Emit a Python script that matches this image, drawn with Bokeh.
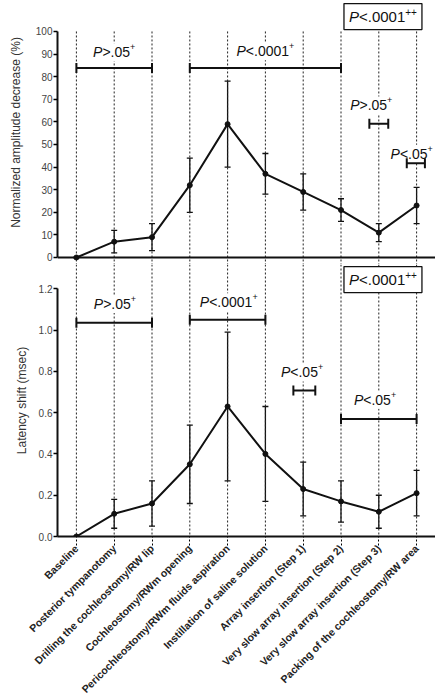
import math
from bokeh.plotting import figure
from bokeh.layouts import column
from bokeh.models import (Range1d, LinearAxis, FixedTicker, Span, Whisker, TeeHead,
                          ColumnDataSource, NumeralTickFormatter)
from bokeh.core.properties import value
from bokeh.embed import file_html
from bokeh.resources import INLINE

# ---------------- data ----------------
steps = ["Baseline", "Posterior tympanotomy", "Drilling the cochleostomy/RW lip",
         "Cochleostomy/RWm opening", "Pericochleostomy/RWm fluids aspiration",
         "Instillation of saline solution", "Array insertion (Step 1)",
         "Very slow array insertion (Step 2)", "Very slow array insertion (Step 3)",
         "Packing of the cochleostomy/RW area"]

amp_mean = [0, 7, 9, 32, 59, 37, 29, 21, 11, 23]
amp_low = [0, 2, 3, 20, 40, 28, 21, 16, 7, 15]
amp_high = [0, 12, 15, 44, 78, 46, 37, 26, 15, 31]

lat_mean = [0, 0.11, 0.16, 0.35, 0.63, 0.40, 0.23, 0.17, 0.12, 0.21]
lat_low = [0, 0.04, 0.05, 0.16, 0.27, 0.17, 0.10, 0.07, 0.04, 0.10]
lat_high = [0, 0.18, 0.27, 0.54, 0.99, 0.63, 0.36, 0.27, 0.20, 0.32]

amp_ticks = [0, 10, 20, 30, 40, 50, 60, 70, 80, 90, 100]
lat_ticks = [0.0, 0.2, 0.4, 0.6, 0.8, 1.0, 1.2]

# significance annotations: (relation text, superscript, x, y)
top_pvals = [(">.05", "+", 1.0, 90.8), ("<.0001", "+", 5.0, 91.2),
             (">.05", "+", 7.8, 67.3), ("<.05", "+", 8.87, 45.9)]
top_brackets = [(0, 2, 83.8), (3, 7, 83.8), (7.75, 8.25, 59.2), (8.74, 9.22, 41.7)]
top_box = ("<.0001", "++", 8.11, 106.6)

bot_pvals = [(">.05", "+", 1.02, 1.127), ("<.0001", "+", 4.03, 1.135),
             ("<.05", "+", 5.97, 0.795), ("<.05", "+", 7.9, 0.663)]
bot_brackets = [(0, 2, 1.036), (3, 5, 1.05), (5.74, 6.32, 0.707), (7, 9, 0.569)]
bot_box = ("<.0001", "++", 8.11, 1.245)

FONT = "Liberation Sans"
CW = {"P": 0.667, "<": 0.584, ">": 0.584, ".": 0.278, "+": 0.584}


def tw(s, size):
    return sum(CW.get(c, 0.556) for c in s) * size


def p_label(fig, rel, sup, x, y, size=14, sup_size=9, boxed=False):
    wP = tw("P", size)
    wR = tw(rel, size)
    wS = tw(sup, sup_size)
    W = wP + wR + wS
    left = -W / 2.0
    if boxed:
        fig.rect(x=[x], y=[y], width=W + 10, height=26, width_units="screen",
                 height_units="screen", fill_color="white", line_color="#111",
                 line_width=1.3)
    else:
        fig.rect(x=[x], y=[y], width=W + 4, height=size + 4, width_units="screen",
                 height_units="screen", fill_color="white", line_color=None)
    common = dict(text_font=value(FONT), text_baseline="middle", text_align="left",
                  text_color="#111")
    fig.text(x=[x], y=[y], text=["P"], x_offset=left, text_font_size=f"{size}px",
             text_font_style="italic", **common)
    fig.text(x=[x], y=[y], text=[rel], x_offset=left + wP, text_font_size=f"{size}px",
             **common)
    fig.text(x=[x], y=[y], text=[sup], x_offset=left + wP + wR, y_offset=-5,
             text_font_size=f"{sup_size}px", **common)


def brackets(fig, items):
    for x0, x1, y in items:
        fig.segment(x0=[x0], y0=[y], x1=[x1], y1=[y], line_color="#111", line_width=2)
        fig.scatter(x=[x0, x1], y=[y, y], marker="dash", angle=math.pi / 2, size=10,
                    line_color="#111", line_width=2)


def style_yaxis(ax, standoff):
    ax.axis_line_width = 2
    ax.axis_line_color = "#111"
    ax.major_tick_out = 4
    ax.major_tick_in = 0
    ax.major_tick_line_width = 1.5
    ax.minor_tick_line_color = None
    ax.major_label_standoff = 1
    ax.major_label_text_font = FONT
    ax.major_label_text_font_size = "10px"
    ax.major_label_text_color = "#444"
    ax.axis_label_text_font = FONT
    ax.axis_label_text_font_size = "12px"
    ax.axis_label_text_font_style = "normal"
    ax.axis_label_text_color = "#333"
    ax.axis_label_standoff = standoff


xs = list(range(len(steps)))

# ---------------- top panel ----------------
top_ymin, top_ymax = -3.1, 113.7
pt = figure(frame_width=378, frame_height=264, x_range=Range1d(-0.5, 9.5),
            y_range=Range1d(top_ymin, top_ymax), x_axis_location=None,
            y_axis_location=None, min_border_left=57, min_border_right=0,
            min_border_top=0, min_border_bottom=0, output_backend="svg",
            toolbar_location=None)
pt.outline_line_color = None
pt.grid.visible = False

pt.segment(x0=xs, y0=[100] * len(xs), x1=xs, y1=[top_ymin] * len(xs),
           line_color="#222", line_width=1, line_dash="2 2")
pt.add_layout(Span(location=0, dimension="width", line_color="#111", line_width=2))

for rel, sup, x, y in top_pvals:
    p_label(pt, rel, sup, x, y)
p_label(pt, *top_box[:2], *top_box[2:], size=15, sup_size=10, boxed=True)
brackets(pt, top_brackets)

src_t = ColumnDataSource(dict(x=xs, m=amp_mean, lo=amp_low, hi=amp_high))
pt.line("x", "m", source=src_t, line_color="#111", line_width=2)
pt.add_layout(Whisker(source=src_t, base="x", lower="lo", upper="hi",
                      line_color="#111", line_width=1.3,
                      upper_head=TeeHead(size=6, line_color="#111", line_width=1.3),
                      lower_head=TeeHead(size=6, line_color="#111", line_width=1.3)))
pt.scatter("x", "m", source=src_t, size=5, color="#111")

ya = LinearAxis(bounds=(0, 100), ticker=FixedTicker(ticks=amp_ticks),
                axis_label="Normalized amplitude decrease (%)")
style_yaxis(ya, 10)
pt.add_layout(ya, "left")

# ---------------- bottom panel ----------------
bot_ymin, bot_ymax = 0, 1.318
pb = figure(frame_width=378, frame_height=272, x_range=Range1d(-0.5, 9.5),
            y_range=Range1d(bot_ymin, bot_ymax), x_axis_location=None,
            y_axis_location=None, min_border_left=57, min_border_right=0,
            min_border_top=0, min_border_bottom=159, output_backend="svg",
            toolbar_location=None)
pb.outline_line_color = None
pb.grid.visible = False

pb.segment(x0=xs, y0=[bot_ymax] * len(xs), x1=xs, y1=[bot_ymin] * len(xs),
           line_color="#222", line_width=1, line_dash="2 2")

for rel, sup, x, y in bot_pvals:
    p_label(pb, rel, sup, x, y)
p_label(pb, *bot_box[:2], *bot_box[2:], size=15, sup_size=10, boxed=True)
brackets(pb, bot_brackets)

src_b = ColumnDataSource(dict(x=xs, m=lat_mean, lo=lat_low, hi=lat_high))
pb.line("x", "m", source=src_b, line_color="#111", line_width=2)
pb.add_layout(Whisker(source=src_b, base="x", lower="lo", upper="hi",
                      line_color="#111", line_width=1.3,
                      upper_head=TeeHead(size=6, line_color="#111", line_width=1.3),
                      lower_head=TeeHead(size=6, line_color="#111", line_width=1.3)))
pb.scatter("x", "m", source=src_b, size=5, color="#111")

yb = LinearAxis(bounds=(0, 1.2), ticker=FixedTicker(ticks=lat_ticks),
                formatter=NumeralTickFormatter(format="0.0"),
                axis_label="Latency shift (msec)")
style_yaxis(yb, 7)
pb.add_layout(yb, "left")

xb = LinearAxis(ticker=FixedTicker(ticks=xs),
                major_label_overrides={i: s for i, s in enumerate(steps)})
xb.axis_line_width = 2
xb.axis_line_color = "#111"
xb.major_tick_out = 9
xb.major_tick_in = 0
xb.major_tick_line_dash = "2 2"
xb.major_tick_line_width = 1
xb.minor_tick_line_color = None
xb.major_label_orientation = math.pi / 4
xb.major_label_standoff = 1
xb.major_label_text_font = FONT
xb.major_label_text_font_size = "10.5px"
xb.major_label_text_font_style = "bold"
xb.major_label_text_color = "#222"
pb.add_layout(xb, "below")

layout = column(pt, pb, spacing=0)
open("out.html", "w").write(file_html(layout, INLINE))
